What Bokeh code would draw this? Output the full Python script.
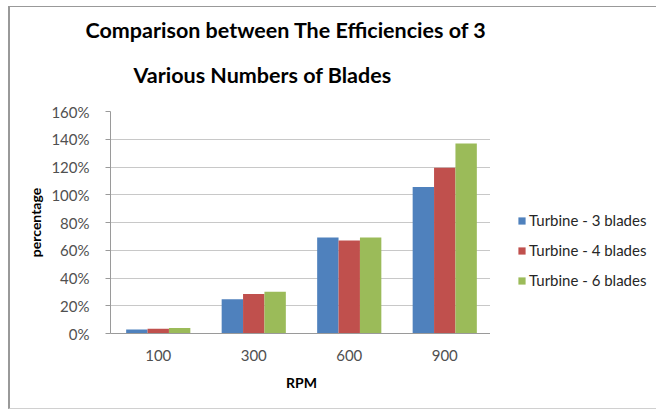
from bokeh.plotting import figure
from bokeh.layouts import row
from bokeh.models import (ColumnDataSource, FactorRange, Range1d, NumeralTickFormatter,
                          FixedTicker, Legend, LegendItem, Title)
from bokeh.transform import dodge
from bokeh.embed import file_html
from bokeh.resources import INLINE

rpm = ["100", "300", "600", "900"]
series_names = ["Turbine - 3 blades", "Turbine - 4 blades", "Turbine - 6 blades"]
blades3 = [0.028, 0.246, 0.691, 1.055]
blades4 = [0.034, 0.284, 0.670, 1.195]
blades6 = [0.040, 0.301, 0.691, 1.370]
y_ticks = [0, 0.2, 0.4, 0.6, 0.8, 1.0, 1.2, 1.4, 1.6]
title_lines = ["Comparison between The Efficiencies of 3", "Various Numbers of Blades"]
colors = ["#4F81BD", "#C0504D", "#9BBB59"]

FONT = "Lato"
H = 403

source = ColumnDataSource(data=dict(rpm=rpm, b3=blades3, b4=blades4, b6=blades6))

p = figure(x_range=FactorRange(*rpm, range_padding=0), y_range=Range1d(0, 1.6),
           width=482, height=H, output_backend="svg", toolbar_location=None,
           min_border_left=100, min_border_right=0, min_border_top=104, min_border_bottom=77)
p.margin = (6, 0, 0, 8)
p.styles = {"border-left": "2px solid #999999", "border-top": "1px solid #999999",
            "border-bottom": "1px solid #d0d0d0"}

bw = 0.224
for i, (col, c) in enumerate(zip(["b3", "b4", "b6"], colors)):
    p.vbar(x=dodge("rpm", (i - 1) * bw, range=p.x_range), top=col, width=bw,
           source=source, fill_color=c, line_color=None)

p.outline_line_color = None
p.background_fill_color = "white"
p.border_fill_color = "white"

# y axis
p.yaxis.ticker = FixedTicker(ticks=y_ticks)
p.yaxis.formatter = NumeralTickFormatter(format="0%")
p.yaxis.axis_line_color = "#9a9a9a"
p.yaxis.major_tick_line_color = "#9a9a9a"
p.yaxis.major_tick_out = 5
p.yaxis.major_tick_in = 0
p.yaxis.minor_tick_line_color = None
p.yaxis.major_label_standoff = 16
p.yaxis.major_label_text_font = FONT
p.yaxis.major_label_text_font_size = "15px"
p.yaxis.major_label_text_color = "#505050"
p.yaxis.axis_label = "percentage"
p.yaxis.axis_label_text_font = FONT
p.yaxis.axis_label_text_font_size = "14px"
p.yaxis.axis_label_text_font_style = "bold"
p.yaxis.axis_label_text_color = "black"
p.yaxis.axis_label_standoff = 4

# x axis
p.xaxis.axis_line_color = "#9a9a9a"
p.xaxis.major_tick_line_color = None
p.xaxis.major_tick_out = 0
p.xaxis.minor_tick_line_color = None
p.xaxis.major_label_standoff = 16
p.xaxis.major_label_text_font = FONT
p.xaxis.major_label_text_font_size = "15px"
p.xaxis.major_label_text_color = "#505050"
p.xaxis.axis_label = "RPM"
p.xaxis.axis_label_text_font = FONT
p.xaxis.axis_label_text_font_size = "14px"
p.xaxis.axis_label_text_font_style = "bold"
p.xaxis.axis_label_text_color = "black"
p.xaxis.axis_label_standoff = 10

p.xgrid.grid_line_color = None
p.ygrid.grid_line_color = "#c8c8c8"
p.ygrid.grid_line_width = 1

# title: second line first (closest to the plot), then first line above it
t2 = Title(text=title_lines[1], align="left", offset=23, standoff=48,
           text_font=FONT, text_font_size="21.5px", text_font_style="bold", text_color="black")
t1 = Title(text=title_lines[0], align="left", offset=-25, standoff=-15,
           text_font=FONT, text_font_size="21.5px", text_font_style="bold", text_color="black")
p.add_layout(t2, "above")
p.add_layout(t1, "above")

# legend panel to the right of the plot area (hidden copies of the series give the swatches)
q = figure(width=166, height=H, output_backend="svg", toolbar_location=None,
           x_range=FactorRange(*rpm), y_range=Range1d(0, 1.6),
           x_axis_location=None, y_axis_location=None, min_border=0)
q.margin = (6, 0, 0, 0)
q.styles = {"border-top": "1px solid #999999", "border-bottom": "1px solid #d0d0d0"}
q.grid.visible = False
q.outline_line_color = None
q.background_fill_color = "white"
q.border_fill_color = "white"
proxies = [q.vbar(x="rpm", top=col, width=0.2, source=source, fill_color=c, line_color=None,
                  visible=False)
           for col, c in zip(["b3", "b4", "b6"], colors)]
legend = Legend(items=[LegendItem(label=n, renderers=[r]) for n, r in zip(series_names, proxies)],
                location=(27, 44), glyph_width=9, glyph_height=9, spacing=12,
                label_height=18, label_text_font=FONT, label_text_font_size="15px",
                label_text_color="#262626", border_line_color=None,
                background_fill_alpha=0, inactive_fill_alpha=0,
                padding=0, margin=0, label_standoff=3)
q.add_layout(legend, "center")

open("out.html", "w").write(file_html(row(p, q), INLINE))
